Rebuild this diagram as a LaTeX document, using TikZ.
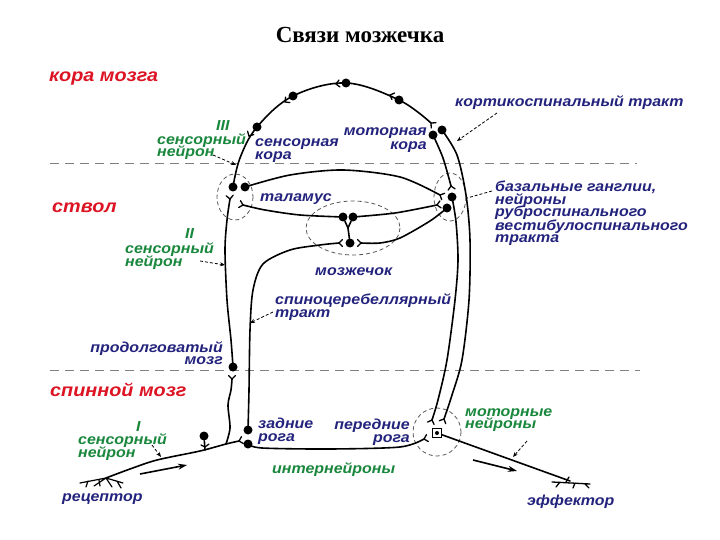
\documentclass[tikz,border=0pt]{standalone}
\usepackage{fontspec}
\setmainfont{Liberation Serif}
\newfontfamily\labfont{Liberation Sans}[FakeStretch=1.1]
\usetikzlibrary{arrows.meta}
\definecolor{navy}{RGB}{35,35,125}
\definecolor{grn}{RGB}{25,135,60}
\definecolor{rd}{RGB}{220,20,35}
\begin{document}
\begin{tikzpicture}[x=1pt,y=-1pt,
  nerve/.style={line width=1.6pt, line cap=round, line join=round},
  dot/.style={circle, fill=black, inner sep=0pt, minimum size=9pt},
  lab/.style={font=\labfont\bfseries\itshape\fontsize{14.5}{14.5}\selectfont, text=navy, inner sep=0pt},
  glab/.style={lab, text=grn},
  rlab/.style={font=\labfont\bfseries\itshape\fontsize{18}{18}\selectfont, text=rd, inner sep=0pt},
  zone/.style={gray, line width=1pt, dash pattern=on 9pt off 6pt},
  ptr/.style={line width=0.8pt, dash pattern=on 3pt off 2pt, -{Stealth[length=5pt,width=4pt]}},
  circ/.style={gray!70!black, line width=0.8pt, dash pattern=on 4pt off 3pt},
  dirarrow/.style={line width=1.6pt, -{Stealth[length=9pt,width=6pt]}},
  syn/.pic={\draw[line width=1.3pt, line cap=round] (3.5,-3.5) -- (0,0) -- (3.5,3.5);}
]
\useasboundingbox (0,0) rectangle (720,540);
\fill[white] (0,0) rectangle (720,540);

% title
\node[font=\bfseries\fontsize{23}{23}\selectfont, inner sep=0pt] (title) at (360,35) {Связи мозжечка};

% zone lines
\coordinate (z1a) at (50,164); \coordinate (z1b) at (637,164);
\coordinate (z2a) at (50,370); \coordinate (z2b) at (640,370);
\draw[zone] (z1a) -- (z1b);
\draw[zone] (z2a) -- (z2b);

% dashed regions
\draw[circ] (235,197) ellipse [x radius=18, y radius=23];
\draw[circ] (450,197) ellipse [x radius=16, y radius=24];
\draw[circ] (353,228) ellipse [x radius=47, y radius=27];
\draw[circ] (437,432) circle [radius=24];

% dots
\node[dot] (T1) at (233,187) {};
\node[dot] (T2) at (245,187) {};
\node[dot] (S1) at (257,127) {};
\node[dot] (S2) at (293,96) {};
\node[dot] (S3) at (346,83) {};
\node[dot] (S4) at (399,100) {};
\node[dot] (M1) at (433,135) {};
\node[dot] (M2) at (442,130) {};
\node[dot] (B1) at (452,197) {};
\node[dot] (B2) at (447,208) {};
\node[dot] (C1) at (343,217) {};
\node[dot] (C2) at (353,217) {};
\node[dot] (C3) at (350,243) {};
\node[dot] (D) at (233,367) {};
\node[dot] (H1) at (248,430) {};
\node[dot] (H2) at (248,444) {};
\node[dot] (G) at (204,436) {};
\node[draw, line width=1.3pt, fill=white, minimum size=9pt, inner sep=0pt] (A) at (437,433) {};
\fill (A) circle [radius=2];

% fork coordinates
\coordinate (f1) at (249,136);
\coordinate (f2) at (285,102);
\coordinate (f3) at (336,84);
\coordinate (f4) at (390,95);
\coordinate (f5) at (431,123);
\coordinate (f6) at (451,186);
\coordinate (f7) at (444,419);
\coordinate (f8) at (432,420);
\coordinate (f9) at (230,199);
\coordinate (f10) at (243,205);
\coordinate (f11) at (437,205);
\coordinate (f12) at (361,243);
\coordinate (f13) at (339,243);
\coordinate (f14) at (440,195);
\coordinate (f15) at (239,441);
\coordinate (f16) at (232,379);
\coordinate (f17) at (424,439);
\coordinate (cy) at (348,228);
\coordinate (br) at (226,444);
\coordinate (R) at (106,478);
\coordinate (effend) at (570,481);

% cortex arc
\draw[nerve] plot[smooth,tension=0.6] coordinates {(T1) (240,158) (S1) (S2) (S3) (S4) (f5)};
% motor cortex -> basal ganglia
\draw[nerve] plot[smooth] coordinates {(M1) (443,158) (f6)};
% corticospinal
\draw[nerve] plot[smooth] coordinates {(M2) (457,155) (466,195) (470,240) (469,300) (462,360) (452,395) (f7)};
% rubrospinal
\draw[nerve] plot[smooth] coordinates {(B1) (456,222) (458,260) (455,300) (447,360) (438,400) (f8)};
% thalamus -> basal ganglia
\draw[nerve] plot[smooth] coordinates {(T2) (290,175) (343,170) (400,177) (f14)};
% cerebellum -> thalamus
\draw[nerve] plot[smooth] coordinates {(C1) (300,215) (265,210) (f10)};
% cerebellum -> basal ganglia
\draw[nerve] plot[smooth] coordinates {(C2) (395,213) (f11)};
% basal ganglia -> cerebellum
\draw[nerve] plot[smooth] coordinates {(B2) (430,221) (400,238) (380,243) (f12)};
% cerebellum Y
\draw[nerve] (C1) -- (cy);
\draw[nerve] (C2) -- (cy);
\draw[nerve] (cy) -- (C3);
% medulla -> thalamus
\draw[nerve] plot[smooth] coordinates {(D) (231,340) (227,300) (225,250) (227,220) (f9)};
% spinocerebellar
\draw[nerve] plot[smooth] coordinates {(H1) (249,390) (250,330) (253,290) (263,264) (290,250) (320,245) (f13)};
% sensory neuron I
\draw[nerve] plot[smooth] coordinates {(R) (130,469) (157,460) (200,451) (br) (f15)};
\draw[nerve] plot[smooth] coordinates {(br) (230,428) (228,405) (231,390) (f16)};
\draw[nerve] (G) -- (205,450);
\draw[line width=1.2pt, line cap=round] (201,445) -- (205,447) -- (209,444);
% receptor endings
\draw[line width=1.2pt, line cap=round] (R) -- (80,483) (R) -- (94,486) (R) -- (112,487) (R) -- (123,483) (88,481) -- (86,487) (117,481) -- (121,488) (99,480) -- (100,486);
% interneuron
\draw[nerve] plot[smooth] coordinates {(H2) (262,448) (330,449) (400,447) (f17)};
% effector
\draw[nerve] (A) -- (effend);
\draw[line width=1.3pt, line cap=round] (552,482) -- (590,484) (560,482) -- (556,487) (575,483) -- (573,488) (585,484) -- (589,488) (566,482) -- (569,477);

% synapse forks
\pic[rotate=62] at (f1) {syn};
\pic[rotate=38] at (f2) {syn};
\pic[rotate=8] at (f3) {syn};
\pic[rotate=-22] at (f4) {syn};
\pic[rotate=-42] at (f5) {syn};
\pic[rotate=-80] at (f6) {syn};
\pic[rotate=-115] at (f7) {syn};
\pic[rotate=-110] at (f8) {syn};
\pic[rotate=95] at (f9) {syn};
\pic[rotate=165] at (f10) {syn};
\pic[rotate=10] at (f11) {syn};
\pic[rotate=180] at (f12) {syn};
\pic[rotate=0] at (f13) {syn};
\pic[rotate=-25] at (f14) {syn};
\pic[rotate=15] at (f15) {syn};
\pic[rotate=90] at (f16) {syn};
\pic[rotate=15] at (f17) {syn};

% direction arrows
\coordinate (a1s) at (140,474); \coordinate (a1e) at (187,465);
\coordinate (a2s) at (473,460); \coordinate (a2e) at (517,471);
\draw[dirarrow] (a1s) -- (a1e);
\draw[dirarrow] (a2s) -- (a2e);

% labels
\node[rlab, anchor=base west] (lcor) at (49,82) {кора мозга};
\node[rlab, anchor=base west] (lstv) at (52,212) {ствол};
\node[rlab, anchor=base west] (lspm) at (50,396) {спинной мозг};

\node[glab, anchor=base west] (n3) at (216,131) {III};
\node[glab, anchor=base west] (s3a) at (157,145) {сенсорный};
\node[glab, anchor=base west] (s3b) at (157,157) {нейрон};
\node[glab, anchor=base west] (n2) at (185,239) {II};
\node[glab, anchor=base west] (s2a) at (125,253) {сенсорный};
\node[glab, anchor=base west] (s2b) at (125,266) {нейрон};
\node[glab, anchor=base west] (n1) at (136,431) {I};
\node[glab, anchor=base west] (s1a) at (78,444) {сенсорный};
\node[glab, anchor=base west] (s1b) at (78,457) {нейрон};
\node[glab, anchor=base west] (lint) at (272,473) {интернейроны};
\node[glab, anchor=base west] (lmn1) at (465,416) {моторные};
\node[glab, anchor=base west] (lmn2) at (465,428) {нейроны};

\node[lab, anchor=base west] (lsc1) at (255,147) {сенсорная};
\node[lab, anchor=base west] (lsc2) at (255,160) {кора};
\node[lab, anchor=base east] (lmc1) at (427,136) {моторная};
\node[lab, anchor=base east] (lmc2) at (427,150) {кора};
\node[lab, anchor=base west] (lcst) at (455,107) {кортикоспинальный тракт};
\node[lab, anchor=base west] (lthal) at (260,202) {таламус};
\node[lab, anchor=base west] (lbg1) at (495,192) {базальные ганглии,};
\node[lab, anchor=base west] (lbg2) at (495,205) {нейроны};
\node[lab, anchor=base west] (lbg3) at (495,217) {руброспинального};
\node[lab, anchor=base west] (lbg4) at (495,230) {вестибулоспинального};
\node[lab, anchor=base west] (lbg5) at (495,242) {тракта};
\node[lab, anchor=base west] (lcb) at (315,275) {мозжечок};
\node[lab, anchor=base west] (lspc1) at (275,304) {спиноцеребеллярный};
\node[lab, anchor=base west] (lspc2) at (275,317) {тракт};
\node[lab, anchor=base east] (lmed1) at (223,352) {продолговатый};
\node[lab, anchor=base east] (lmed2) at (223,364) {мозг};
\node[lab, anchor=base west] (ldh1) at (258,428) {задние};
\node[lab, anchor=base west] (ldh2) at (258,441) {рога};
\node[lab, anchor=base east] (lvh1) at (410,429) {передние};
\node[lab, anchor=base east] (lvh2) at (410,442) {рога};
\node[lab, anchor=base west] (lrec) at (62,501) {рецептор};
\node[lab, anchor=base west] (leff) at (527,505) {эффектор};

% pointers
\coordinate (p1e) at (236,165);
\coordinate (p2e) at (225,265);
\coordinate (p3e) at (161,457);
\coordinate (p4e) at (457,141);
\coordinate (p5e) at (467,198);
\coordinate (p6e) at (250,323);
\coordinate (p7e) at (513,457);
\draw[ptr] (213,155) -- (p1e);
\draw[ptr] (200,261) -- (p2e);
\draw[ptr] (152,445) -- (p3e);
\draw[ptr] (497,113) -- (p4e);
\draw[line width=0.8pt, dash pattern=on 3pt off 2pt] (492,191) -- (p5e);
\draw[ptr] (273,312) -- (p6e);
\draw[ptr] (527,441) -- (p7e);
\end{tikzpicture}
\end{document}
